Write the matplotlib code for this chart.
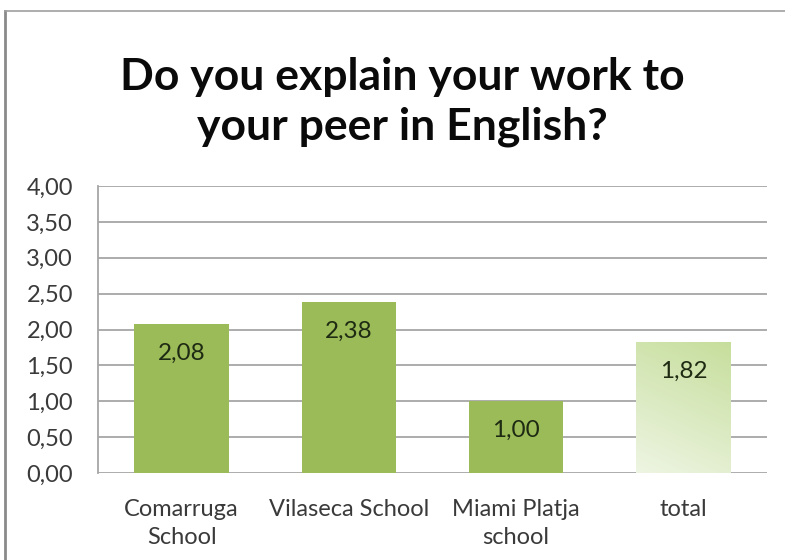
import numpy as np
import matplotlib
matplotlib.use("Agg")
import matplotlib.pyplot as plt
from matplotlib.lines import Line2D
from matplotlib.colors import LinearSegmentedColormap

categories = ["Comarruga\nSchool", "Vilaseca School", "Miami Platja\nschool", "total"]
values = [2.08, 2.38, 1.00, 1.82]
value_labels = ["2,08", "2,38", "1,00", "1,82"]
y_ticks = [0.0, 0.5, 1.0, 1.5, 2.0, 2.5, 3.0, 3.5, 4.0]
y_tick_labels = ["0,00", "0,50", "1,00", "1,50", "2,00", "2,50", "3,00", "3,50", "4,00"]
title = "Do you explain your work to\nyour peer in English?"

plt.rcParams["font.family"] = ["Lato", "DejaVu Sans"]

fig = plt.figure(figsize=(7.85, 5.6), dpi=100)
fig.patch.set_facecolor("white")

# frame lines at the top and left edge of the chart area
fig.add_artist(Line2D([5 / 785, 5 / 785], [0, 1 - 11 / 560], color="#8a8a8a", lw=2.0))
fig.add_artist(Line2D([5 / 785, 1], [1 - 11 / 560, 1 - 11 / 560], color="#a0a0a0", lw=1.2))

ax = fig.add_axes([98 / 785, 1 - 473 / 560, (767 - 98) / 785, (473 - 186) / 560])
x = np.arange(len(categories))
width = 0.565
colors = ["#9bbb59", "#9bbb59", "#9bbb59", "none"]
bars = ax.bar(x, values, width=width, color=colors, zorder=3)

# gradient fill for the total bar
total_bar = bars[-1]
bx, by = total_bar.get_x(), total_bar.get_y()
bw, bh = total_bar.get_width(), total_bar.get_height()
cmap = LinearSegmentedColormap.from_list("tot", ["#eef5e3", "#c6de9c"])
gy, gx = np.mgrid[0:1:200j, 0:1:100j]
grad = 0.75 * gy + 0.25 * gx
ax.imshow(grad, extent=(bx, bx + bw, by, by + bh), origin="lower",
          cmap=cmap, aspect="auto", zorder=3, interpolation="bilinear")
ax.set_xlim(-0.5, len(categories) - 0.5)
ax.set_ylim(0, 4)

for xi, v, lab in zip(x, values, value_labels):
    ax.annotate(lab, (xi, v), xytext=(0, -21), textcoords="offset points",
                ha="center", va="center", fontsize=17.5, color="#1e2a12", zorder=5)

ax.set_yticks(y_ticks)
ax.set_yticklabels(y_tick_labels, fontsize=17, color="#3a3a3a")
ax.set_xticks(x)
ax.set_xticklabels(categories, fontsize=17, color="#3a3a3a", linespacing=1.38)
ax.tick_params(axis="y", length=0, pad=18)
ax.tick_params(axis="x", length=0, pad=19)

ax.yaxis.grid(True, color="#a6a6a6", lw=1.3, zorder=1)
ax.set_axisbelow(True)
for s in ["top", "right", "bottom"]:
    ax.spines[s].set_visible(False)
ax.spines["left"].set_color("#a6a6a6")
ax.spines["left"].set_linewidth(1.3)

fig.text(0.513, 1 - 102 / 560, title, ha="center", va="center", fontsize=32,
         fontweight="bold", color="#0a0a0a", linespacing=1.3)

fig.savefig("out.png", dpi=100, facecolor="white")
